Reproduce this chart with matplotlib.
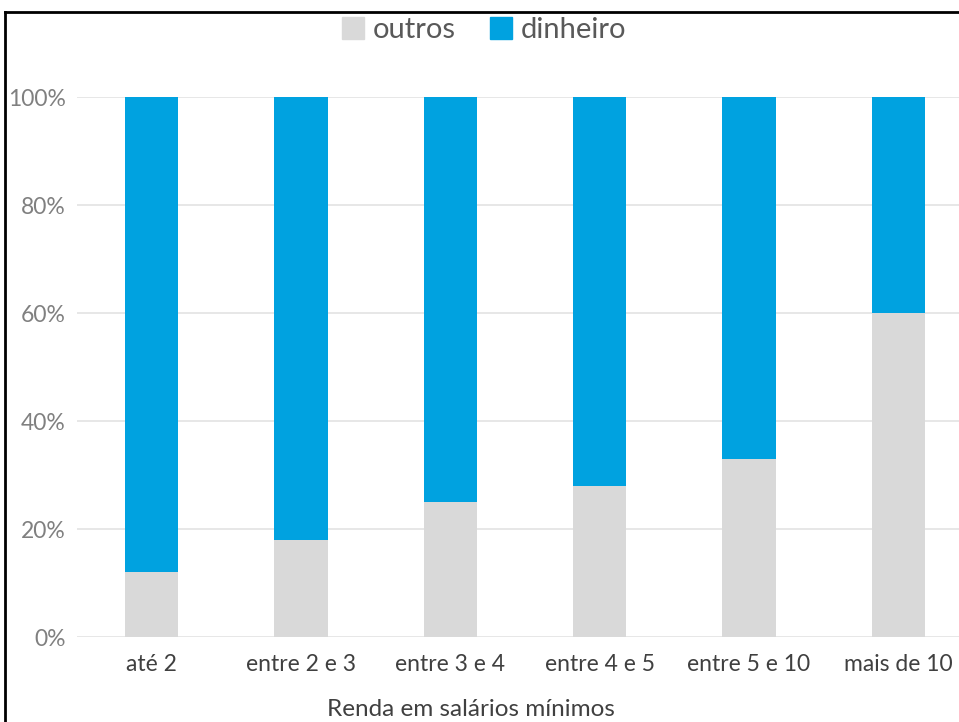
import matplotlib
matplotlib.use('Agg')
import matplotlib.pyplot as plt
from matplotlib.lines import Line2D
from matplotlib.patches import Patch
from matplotlib.ticker import PercentFormatter

plt.rcParams['font.family'] = ['Lato', 'DejaVu Sans']

# renda em salarios minimos
categories = ['até 2', 'entre 2 e 3', 'entre 3 e 4', 'entre 4 e 5', 'entre 5 e 10', 'mais de 10']
outros = [12, 18, 25, 28, 33, 60]
dinheiro = [100 - v for v in outros]
yticks = [0, 20, 40, 60, 80, 100]

GRAY = '#D9D9D9'
BLUE = '#00A2E0'

W, H = 959, 722
fig = plt.figure(figsize=(W / 100, H / 100), dpi=100)
ax = fig.add_axes([77 / W, 85 / H, 896 / W, 540 / H])

x = range(len(categories))
ax.bar(x, outros, width=0.355, color=GRAY, zorder=3, label='outros')
ax.bar(x, dinheiro, width=0.355, bottom=outros, color=BLUE, zorder=3, label='dinheiro')

ax.set_xlim(-0.5, 5.5)
ax.set_ylim(0, 100)
ax.set_yticks(yticks)
ax.yaxis.set_major_formatter(PercentFormatter(decimals=0))
ax.set_xticks(list(x))
ax.set_xticklabels(categories)
ax.grid(axis='y', color='#E3E3E3', lw=1.2, zorder=0)
ax.tick_params(axis='both', length=0)
ax.tick_params(axis='y', labelsize=16.5, labelcolor='#808080', pad=8)
ax.tick_params(axis='x', labelsize=16.5, labelcolor='#404040', pad=12)
for s in ax.spines.values():
  s.set_visible(False)

fig.text(471 / W, 2 / H, 'Renda em salários mínimos', ha='center', va='bottom',
         fontsize=17.5, color='#404040')

handles = [Patch(color=GRAY), Patch(color=BLUE)]
fig.legend(handles, ['outros', 'dinheiro'], loc='center', bbox_to_anchor=(484 / W, 1 - 30 / H),
           ncol=2, frameon=False, fontsize=21, labelcolor='#595959',
           handlelength=0.75, handleheight=0.75, handletextpad=0.3, columnspacing=1.2)

# frame round the chart, only its top and left edges fall inside the picture
fig.add_artist(Line2D([5 / W, 5 / W], [0, 1 - 12 / H], color='black', lw=2))
fig.add_artist(Line2D([5 / W, 1], [1 - 12 / H, 1 - 12 / H], color='black', lw=2))

fig.savefig('out.png', dpi=100)
